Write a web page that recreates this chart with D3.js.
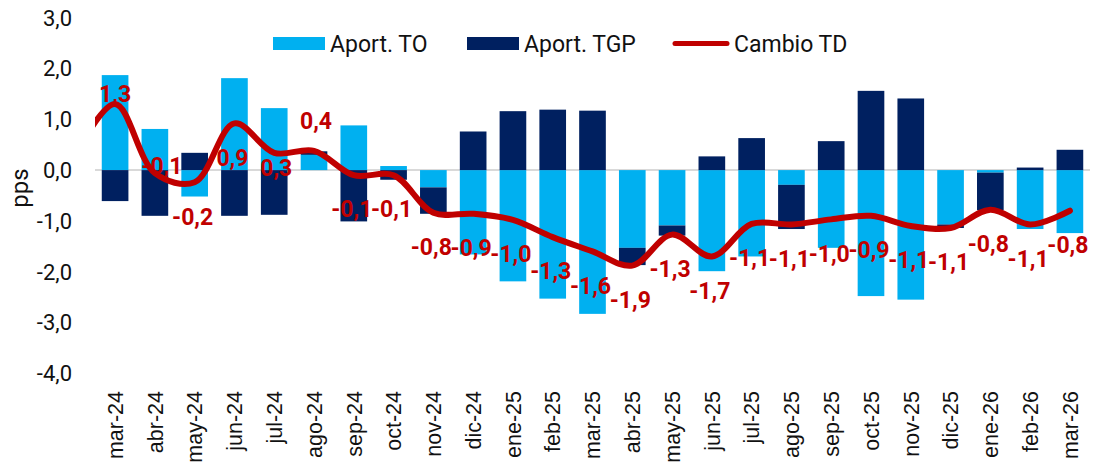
<!DOCTYPE html>
<html lang="es">
<head>
    <meta charset="UTF-8">
    <title>Aportaciones al cambio de la TD</title>
    <script src="https://d3js.org/d3.v7.min.js"></script>
    <style>
        body { margin: 0; background: #fff; }
        text { font-family: Roboto, "Liberation Sans", sans-serif; fill: #111; }
        .xlab { font-family: "Liberation Sans", Arial, sans-serif; }
    </style>
</head>
<body>
<div id="chart"></div>
<script>
// data
const categories = ["mar-24","abr-24","may-24","jun-24","jul-24","ago-24","sep-24","oct-24","nov-24","dic-24",
    "ene-25","feb-25","mar-25","abr-25","may-25","jun-25","jul-25","ago-25","sep-25","oct-25","nov-25","dic-25",
    "ene-26","feb-26","mar-26"];
const aportTO = [1.87, 0.81, -0.52, 1.81, 1.22, 0.30, 0.88, 0.08, -0.34, -1.66, -2.19, -2.53, -2.83, -1.53,
    -1.09, -1.99, -1.70, -0.29, -1.53, -2.48, -2.55, -1.07, -0.05, -1.16, -1.24];
const aportTGP = [-0.61, -0.90, 0.34, -0.90, -0.88, 0.07, -1.01, -0.19, -0.52, 0.76, 1.16, 1.19, 1.17, -0.34,
    -0.20, 0.27, 0.63, -0.87, 0.57, 1.56, 1.41, -0.07, -0.74, 0.05, 0.40];
const cambioTD = [1.3, -0.06, -0.24, 0.92, 0.34, 0.38, -0.1, -0.1, -0.84, -0.86, -0.98, -1.32, -1.6, -1.88,
    -1.27, -1.7, -1.06, -1.07, -0.97, -0.9, -1.1, -1.14, -0.78, -1.07, -0.8];
// the line comes in from the left edge, so there is one month before mar-24 (clipped away)
const cambioTDprev = 0.3;
const yTicks = [3, 2, 1, 0, -1, -2, -3, -4];
const seriesNames = ["Aport. TO", "Aport. TGP", "Cambio TD"];

const width = 1105, height = 468;
const colTO = "#00b0f0", colTGP = "#002060", colTD = "#c00000";

const svg = d3.select("#chart").append("svg")
    .attr("width", width)
    .attr("height", height);

const x = d3.scaleBand()
    .domain(categories)
    .range([95, 1090])
    .paddingInner(0.33)
    .paddingOuter(0.17);

const y = d3.scaleLinear()
    .domain([-4, 3])
    .range([373.3, 17.7]);

const fmt = v => d3.format(".1f")(v).replace(".", ",").replace("−", "-");

// y axis labels
svg.append("g").selectAll("text")
    .data(yTicks)
    .enter().append("text")
    .attr("x", 72)
    .attr("y", d => y(d))
    .attr("text-anchor", "end")
    .attr("dy", "0.36em")
    .style("font-size", "22px")
    .text(d => fmt(d));

svg.append("text")
    .attr("transform", "translate(20,188) rotate(-90)")
    .attr("text-anchor", "middle")
    .attr("dy", "0.35em")
    .style("font-size", "24px")
    .text("pps");

// zero line
svg.append("line")
    .attr("x1", 95).attr("x2", 1090)
    .attr("y1", y(0)).attr("y2", y(0))
    .attr("stroke", "#d9d9d9")
    .attr("stroke-width", 2);

// stacked bars
const rows = categories.map((c, i) => ({ cat: c, TO: aportTO[i], TGP: aportTGP[i] }));
const stack = d3.stack()
    .keys(["TO", "TGP"])
    .offset(d3.stackOffsetDiverging);
const colors = { TO: colTO, TGP: colTGP };

svg.append("g").selectAll("g")
    .data(stack(rows))
    .enter().append("g")
    .attr("fill", d => colors[d.key])
    .selectAll("rect")
    .data(d => d)
    .enter().append("rect")
    .attr("x", d => x(d.data.cat))
    .attr("width", x.bandwidth())
    .attr("y", d => y(Math.max(d[0], d[1])))
    .attr("height", d => Math.abs(y(d[0]) - y(d[1])));

// line
svg.append("clipPath").attr("id", "plotclip")
    .append("rect").attr("x", 95).attr("y", 0).attr("width", 995).attr("height", 400);

const cx = c => x(c) + x.bandwidth() / 2;
const linePts = [[cx(categories[0]) - x.step(), y(cambioTDprev)]]
    .concat(categories.map((c, i) => [cx(c), y(cambioTD[i])]));

svg.append("path")
    .datum(linePts)
    .attr("clip-path", "url(#plotclip)")
    .attr("fill", "none")
    .attr("stroke", colTD)
    .attr("stroke-width", 6)
    .attr("stroke-linecap", "round")
    .attr("d", d3.line().curve(d3.curveCatmullRom.alpha(0.5)));

// data labels, mostly under the line; a few were moved
const labelShift = { "mar-24": [0, -10], "abr-24": [7, -7], "jul-24": [2, 15], "ago-24": [2, -30] };
svg.append("g").selectAll("text")
    .data(categories)
    .enter().append("text")
    .attr("x", c => cx(c) + (labelShift[c] || [-2, 34])[0])
    .attr("y", (c, i) => y(cambioTD[i]) + (labelShift[c] || [-2, 34])[1])
    .attr("text-anchor", "middle")
    .attr("dy", "0.36em")
    .style("font-size", "23px")
    .style("font-weight", "bold")
    .style("fill", colTD)
    .text((c, i) => fmt(cambioTD[i]));

// x axis labels
svg.append("g").selectAll("text")
    .data(categories)
    .enter().append("text")
    .attr("class", "xlab")
    .attr("transform", c => `translate(${cx(c)},391) rotate(-90)`)
    .attr("text-anchor", "end")
    .attr("dy", "0.36em")
    .style("font-size", "21.5px")
    .text(c => c);

// legend
const legend = svg.append("g");
const legX = [273, 467, 673];
seriesNames.forEach((name, i) => {
    const g = legend.append("g").attr("transform", `translate(${legX[i]},0)`);
    if (i < 2) {
        g.append("rect")
            .attr("x", 0).attr("y", 37)
            .attr("width", 52).attr("height", 13)
            .attr("fill", i === 0 ? colTO : colTGP);
    } else {
        g.append("line")
            .attr("x1", 2).attr("x2", 54)
            .attr("y1", 43.5).attr("y2", 43.5)
            .attr("stroke", colTD)
            .attr("stroke-width", 5)
            .attr("stroke-linecap", "round");
    }
    g.append("text")
        .attr("x", i < 2 ? 57 : 61)
        .attr("y", 44)
        .attr("dy", "0.36em")
        .style("font-size", "23px")
        .text(name);
});
</script>
</body>
</html>
